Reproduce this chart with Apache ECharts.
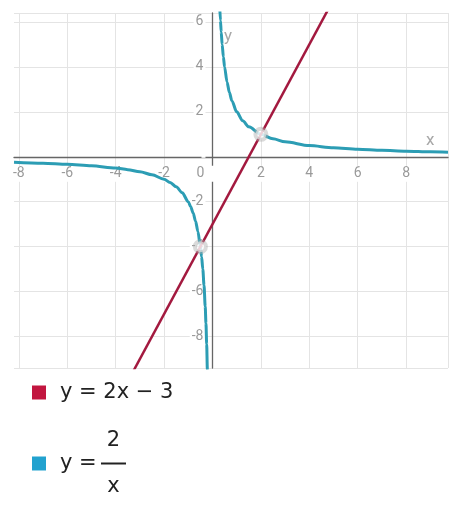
<!DOCTYPE html>
<html lang="en">
  <head>
    <meta charset="UTF-8" />
    <title>Graphs</title>
    <script src="https://cdn.jsdelivr.net/npm/echarts@6/dist/echarts.min.js"></script>
    <style>
      html, body { margin: 0; padding: 0; background: #fff; }
    </style>
  </head>
  <body>
    <div id="main" style="width: 456px; height: 506px"></div>
    <script type="text/javascript">
      // axis window
      const xRange = [-8.2, 9.73];
      const yRange = [-9.4, 6.4];

      // y = 2x - 3 (two points on the line, clipped by the grid)
      const lineX = [-4, 5];
      const lineY = [-11, 7];

      // y = 2/x, left branch
      const leftX = [-8.2, -7, -6, -5, -4, -3.5, -3, -2.5, -2, -1.75, -1.5, -1.25, -1, -0.9, -0.8, -0.7, -0.6, -0.5, -0.45, -0.4, -0.35, -0.3, -0.27, -0.24, -0.21, -0.2];
      const leftY = [-0.244, -0.286, -0.333, -0.4, -0.5, -0.571, -0.667, -0.8, -1, -1.143, -1.333, -1.6, -2, -2.222, -2.5, -2.857, -3.333, -4, -4.444, -5, -5.714, -6.667, -7.407, -8.333, -9.524, -10];

      // y = 2/x, right branch
      const rightX = [0.3, 0.33, 0.36, 0.4, 0.45, 0.5, 0.6, 0.7, 0.8, 1, 1.25, 1.5, 2, 2.5, 3, 4, 5, 6, 7, 8, 9, 9.73];
      const rightY = [6.667, 6.06, 5.556, 5, 4.444, 4, 3.333, 2.857, 2.5, 2, 1.6, 1.333, 1, 0.8, 0.667, 0.5, 0.4, 0.333, 0.286, 0.25, 0.222, 0.206];

      // intersections
      const crossX = [2, -0.5];
      const crossY = [1, -4];

      const names = ["y = 2x \u2212 3", "y = 2/x"];

      const zip = (xs, ys) => xs.map((x, i) => [x, ys[i]]);

      const W = 456, H = 506;
      const grid = { left: 14, top: 13, right: 8, bottom: 138 };
      const gridW = W - grid.left - grid.right;
      const gridH = H - grid.top - grid.bottom;
      // move each axis (line + labels) onto the other axis' zero
      const xAxisOffset = -gridH * (0 - yRange[0]) / (yRange[1] - yRange[0]);
      const yAxisOffset = -gridW * (0 - xRange[0]) / (xRange[1] - xRange[0]);

      let myChart = echarts.init(document.getElementById("main"));

      const labelBase = {
        color: "#9a9a9a",
        fontSize: 14,
        fontFamily: "Roboto",
        backgroundColor: "#fff",
        padding: [1, 2],
        showMinLabel: false,
        showMaxLabel: false,
      };
      const legendFont = "DejaVu Sans";
      const legendText = {
        color: "#222",
        fontSize: 21,
        fontFamily: legendFont,
        padding: [0, 0, 0, 9],
        rich: {
          t: { color: "#222", fontSize: 21, fontFamily: legendFont, lineHeight: 26 },
          p: { color: "#222", fontSize: 21, fontFamily: legendFont, width: 41, lineHeight: 23 },
          n: { color: "#222", fontSize: 21, fontFamily: legendFont, width: 25, align: "center", lineHeight: 23 },
          bar: { width: 25, height: 2, backgroundColor: "#222", lineHeight: 23 },
        },
      };
      const legendBase = {
        orient: "vertical",
        left: 32,
        padding: 0,
        icon: "rect",
        itemWidth: 14,
        itemHeight: 14,
        textStyle: legendText,
        formatter: (name) =>
          name === names[1]
            ? "{p| }{n|2}\n{p|y =}{bar|}\n{p| }{n|x}"
            : "{t|" + name + "}",
      };

      let options = {
        animation: false,
        grid: Object.assign({ containLabel: false, outerBoundsMode: "none" }, grid),
        xAxis: {
          type: "value",
          min: xRange[0],
          max: xRange[1],
          splitNumber: 9,
          offset: xAxisOffset,
          name: "x",
          nameLocation: "end",
          nameGap: -22,
          nameTextStyle: { color: "#a8a8a8", fontSize: 17, fontFamily: "Roboto", verticalAlign: "bottom", padding: [0, 0, 8, 0] },
          axisLine: { onZero: false, lineStyle: { color: "#666", width: 1.3 } },
          axisTick: { show: false },
          splitLine: { show: true, showMinLine: false, lineStyle: { color: "#e4e4e4", width: 1 } },
          axisLabel: Object.assign({}, labelBase, {
            margin: 9,
            formatter: (v) => (v === 0 ? "{z|0}" : Number.isInteger(v) ? String(v) : ""),
            rich: { z: { color: "#9a9a9a", fontSize: 14, fontFamily: "Roboto", padding: [0, 24, 0, 0] } },
          }),
        },
        yAxis: {
          type: "value",
          min: yRange[0],
          max: yRange[1],
          splitNumber: 8,
          offset: yAxisOffset,
          name: "y",
          nameLocation: "end",
          nameGap: -32,
          nameTextStyle: { color: "#a8a8a8", fontSize: 17, fontFamily: "Roboto", padding: [0, 0, 0, 31] },
          axisLine: { onZero: false, lineStyle: { color: "#666", width: 1.3 } },
          axisTick: { show: false },
          splitLine: { show: true, lineStyle: { color: "#e4e4e4", width: 1 } },
          axisLabel: Object.assign({}, labelBase, {
            margin: 7,
            formatter: (v) => (v === 0 || !Number.isInteger(v) ? "" : String(v)),
          }),
        },
        legend: [
          Object.assign({}, legendBase, { top: 382, data: [names[0]] }),
          Object.assign({}, legendBase, { top: 430, data: [names[1]] }),
        ],
        series: [
          {
            name: names[0],
            type: "line",
            data: zip(lineX, lineY),
            showSymbol: false,
            itemStyle: { color: "#c2163f" },
            lineStyle: { color: "#a3193f", width: 2.5 },
            z: 3,
          },
          {
            name: names[1],
            type: "line",
            data: zip(leftX, leftY),
            showSymbol: false,
            smooth: 0.3,
            smoothMonotone: "x",
            itemStyle: { color: "#22a2cf" },
            lineStyle: { color: "#2c9db4", width: 3 },
            z: 2,
          },
          {
            name: names[1],
            type: "line",
            data: zip(rightX, rightY),
            showSymbol: false,
            smooth: 0.3,
            smoothMonotone: "x",
            itemStyle: { color: "#22a2cf" },
            lineStyle: { color: "#2c9db4", width: 3 },
            z: 2,
          },
          {
            type: "scatter",
            data: zip(crossX, crossY),
            symbolSize: 11,
            itemStyle: { color: "#fff", borderColor: "rgba(170,170,170,0.55)", borderWidth: 4 },
            z: 5,
          },
        ],
      };
      myChart.setOption(options);
    </script>
  </body>
</html>
